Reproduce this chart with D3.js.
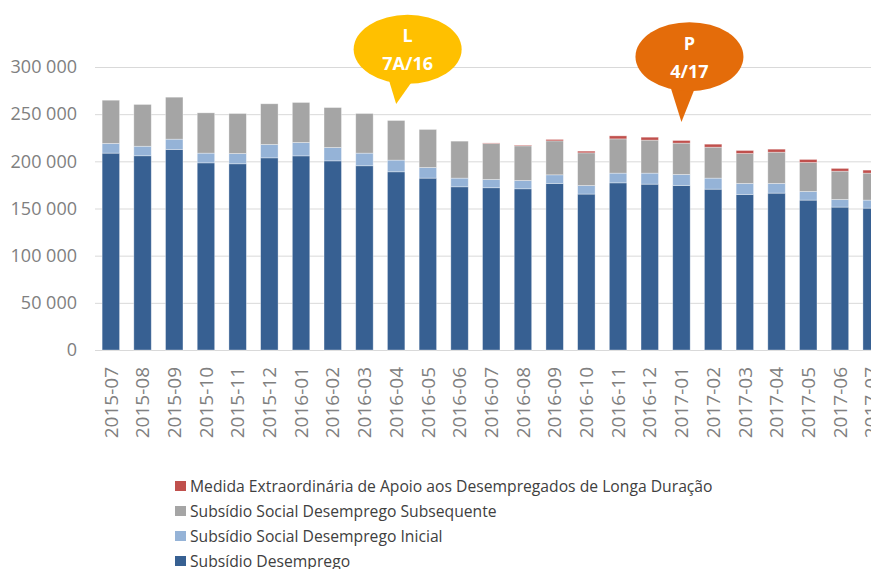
<!DOCTYPE html>
<meta charset="utf-8">
<head>
<style>
body { margin: 0; background: #fff; }
svg { display: block; font-family: "Open Sans", sans-serif; }
.grid line { stroke: #d9d9d9; stroke-width: 1px; }
.axis text { fill: #808080; font-size: 18px; }
.axis.x text { font-size: 19px; }
.legend text { fill: #404040; font-size: 15.7px; }
.bubble text { fill: #fff; font-size: 18px; font-weight: bold; text-anchor: middle; }
</style>
</head>
<body>
<svg width="871" height="569"></svg>
<script src="https://cdn.jsdelivr.net/npm/d3@7"></script>
<script>
var months = ["2015-07","2015-08","2015-09","2015-10","2015-11","2015-12",
  "2016-01","2016-02","2016-03","2016-04","2016-05","2016-06","2016-07","2016-08",
  "2016-09","2016-10","2016-11","2016-12","2017-01","2017-02","2017-03","2017-04",
  "2017-05","2017-06","2017-07"];

// values in thousands
var subsidioDesemprego = [208.7,205.9,212.6,198.4,197.4,203.7,205.8,200.5,195.3,188.9,182.2,173.0,
  172.0,170.9,176.6,165.3,177.2,175.8,174.4,170.5,164.9,166.3,158.9,151.5,150.4];
var ssdInicial = [10.3,10.1,10.9,10.3,10.9,14.2,14.2,14.2,13.4,12.4,11.3,9.2,
  8.8,8.8,9.1,9.1,10.3,11.7,11.7,11.7,11.7,10.3,9.2,8.1,8.5];
var ssdSubsequente = [45.8,44.3,44.5,42.7,42.4,43.1,42.4,42.3,42.0,42.0,40.3,39.2,
  38.2,36.7,36.0,34.6,36.3,35.0,33.2,32.8,31.7,33.1,30.7,30.0,28.6];
var medidaExtra = [0,0,0,0,0,0,0,0,0,0,0,0,
  0.5,0.8,1.5,1.8,3.2,3.1,2.8,3.2,3.2,3.2,3.2,2.9,3.2];

var seriesNames = ["Subsídio Desemprego", "Subsídio Social Desemprego Inicial",
  "Subsídio Social Desemprego Subsequente", "Medida Extraordinária de Apoio aos Desempregados de Longa Duração"];
var seriesColors = ["#376092", "#95b3d7", "#a5a5a5", "#c0504d"];
var yTicks = [0, 50000, 100000, 150000, 200000, 250000, 300000];

var notes = [
  {month: "2016-04", lines: ["L", "7A/16"], color: "#ffc000"},
  {month: "2017-01", lines: ["P", "4/17"], color: "#e46c0a"}
];

var keys = ["sd", "ini", "sub", "med"];
var rows = months.map(function(m, i) {
  return {month: m, sd: subsidioDesemprego[i] * 1000, ini: ssdInicial[i] * 1000,
    sub: ssdSubsequente[i] * 1000, med: medidaExtra[i] * 1000};
});
var stacked = d3.stack().keys(keys)(rows);

var svg = d3.select("svg");
var plotLeft = 95, plotBottom = 350, plotTop = 67;

var x = d3.scaleBand().domain(months).range([plotLeft, plotLeft + 25 * 31.7]).paddingInner(0.45).paddingOuter(0.225);
var y = d3.scaleLinear().domain([0, 300000]).range([plotBottom, plotTop]);

var fmt = function(d) { return d3.format(",")(d).replace(/,/g, " "); };

svg.append("g").attr("class", "grid")
  .selectAll("line").data(yTicks).join("line")
    .attr("x1", plotLeft).attr("x2", 871)
    .attr("y1", function(d) { return y(d) + 0.5; })
    .attr("y2", function(d) { return y(d) + 0.5; });

svg.append("g").attr("class", "axis")
  .selectAll("text").data(yTicks).join("text")
    .attr("x", 77).attr("y", function(d) { return y(d); })
    .attr("dy", "0.35em").attr("text-anchor", "end")
    .text(fmt);

svg.append("g").selectAll("g").data(stacked).join("g")
    .attr("fill", function(d, i) { return seriesColors[i]; })
  .selectAll("rect").data(function(d) { return d; }).join("rect")
    .attr("x", function(d) { return x(d.data.month); })
    .attr("width", x.bandwidth())
    .attr("y", function(d) { return y(d[1]); })
    .attr("height", function(d) { return y(d[0]) - y(d[1]); })
    .attr("stroke", "#fff").attr("stroke-opacity", 0.45).attr("stroke-width", 0.75);

svg.append("g").attr("class", "axis x")
  .selectAll("text").data(months).join("text")
    .attr("transform", function(d) { return "translate(" + (x(d) + x.bandwidth() / 2) + ",367) rotate(-90)"; })
    .attr("dy", "0.35em").attr("text-anchor", "end")
    .text(function(d) { return d; });

// callouts
var bubble = svg.append("g").attr("class", "bubble").selectAll("g").data(notes).join("g");
bubble.each(function(d, i) {
  var g = d3.select(this);
  var tipX = x(d.month) + x.bandwidth() / 2;
  var cx = i === 0 ? tipX + 11.5 : tipX + 8;
  var cy = i === 0 ? 49.3 : 56.7;
  var tipY = i === 0 ? 104 : 122;
  var baseY = cy + 30;
  g.append("path")
    .attr("d", "M" + (cx - 19) + "," + baseY + "L" + tipX + "," + tipY + "L" + (cx + 6) + "," + baseY + "Z")
    .attr("fill", d.color);
  g.append("ellipse").attr("cx", cx).attr("cy", cy).attr("rx", 54).attr("ry", 34.5).attr("fill", d.color);
  g.append("text").attr("x", cx).attr("y", cy - 7).text(d.lines[0]);
  g.append("text").attr("x", cx).attr("y", cy + 21).text(d.lines[1]);
});

var legend = svg.append("g").attr("class", "legend")
  .selectAll("g").data([3, 2, 1, 0]).join("g")
    .attr("transform", function(d, i) { return "translate(175," + (486 + i * 25) + ")"; });
legend.append("rect").attr("x", 0).attr("y", -5).attr("width", 11).attr("height", 10)
  .attr("fill", function(d) { return seriesColors[d]; });
legend.append("text").attr("x", 15).attr("dy", "0.35em")
  .text(function(d) { return seriesNames[d]; });
</script>
</body>
</html>
